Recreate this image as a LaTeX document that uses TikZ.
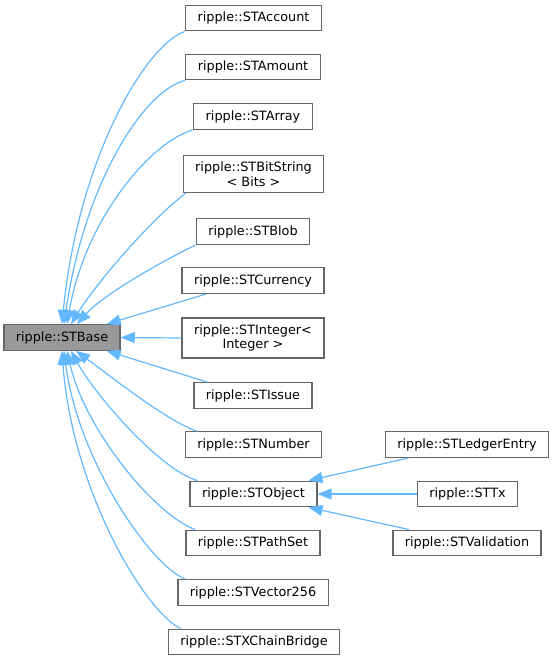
\documentclass[tikz,border=0pt]{standalone}
\usepackage{fontspec}
\setmainfont{DejaVu Sans}
\usetikzlibrary{arrows.meta}
\definecolor{edgeblue}{HTML}{63B8FF}

\begin{document}
\begin{tikzpicture}[x=1pt,y=-1pt,
    cls/.style={draw=black!60,line width=1.3pt,fill=white,inner xsep=12pt,inner ysep=6.5pt,
        minimum height=25.5pt,align=center,font=\fontsize{12.8}{14.5}\selectfont},
    basecls/.style={cls,fill=black!40},
    inh/.style={draw=edgeblue,line width=1.2pt,-{Triangle[length=14pt,width=11pt]}}]
    \useasboundingbox (0,0) rectangle (553,660);
    % classes
    \node[basecls] (base) at (62,337.5) {ripple::STBase};
    \node[cls] (account) at (253.5,18) {ripple::STAccount};
    \node[cls] (amount) at (253,67) {ripple::STAmount};
    \node[cls] (starray) at (253,116.5) {ripple::STArray};
    \node[cls] (bitstring) at (253.5,174) {ripple::STBitString\\< Bits >};
    \node[cls] (blob) at (253,231.5) {ripple::STBlob};
    \node[cls] (currency) at (253,280.5) {ripple::STCurrency};
    \node[cls] (integer) at (253,338) {ripple::STInteger<\\Integer >};
    \node[cls] (issue) at (253,395.5) {ripple::STIssue};
    \node[cls] (number) at (253.5,444.5) {ripple::STNumber};
    \node[cls] (object) at (253.5,494) {ripple::STObject};
    \node[cls] (pathset) at (253,543) {ripple::STPathSet};
    \node[cls] (vector) at (253,592.5) {ripple::STVector256};
    \node[cls] (xchain) at (254,642) {ripple::STXChainBridge};
    \node[cls] (ledger) at (467,444.5) {ripple::STLedgerEntry};
    \node[cls] (sttx) at (467.5,494) {ripple::STTx};
    \node[cls] (validation) at (467,543) {ripple::STValidation};
    % inheritance
    \draw[inh] (account.south west) .. controls (145,45) and (78,160) .. (base.north);
    \draw[inh] (amount.south west) .. controls (145,90) and (85,180) .. ([xshift=2]base.north);
    \draw[inh] (starray.south west) .. controls (150,142) and (85,220) .. ([xshift=5]base.north);
    \draw[inh] ([xshift=3]bitstring.south west) .. controls (150,220) and (95,285) .. ([xshift=9]base.north);
    \draw[inh] (blob.south west) .. controls (157,264) and (103,295) .. ([xshift=15]base.north);
    \draw[inh] ([xshift=25]currency.south west) -- ([xshift=-14]base.north east);
    \draw[inh] (integer.west) -- (base.east);
    \draw[inh] ([xshift=14]issue.north west) -- ([xshift=-14]base.south east);
    \draw[inh] ([xshift=12]number.north west) .. controls (165,420) and (105,372) .. ([xshift=14]base.south);
    \draw[inh] ([xshift=8]object.north west) .. controls (160,470) and (95,395) .. ([xshift=9]base.south);
    \draw[inh] ([xshift=10]pathset.north west) .. controls (155,515) and (85,430) .. ([xshift=5]base.south);
    \draw[inh] ([xshift=8]vector.north west) .. controls (150,565) and (78,460) .. ([xshift=2]base.south);
    \draw[inh] ([xshift=13]xchain.north west) .. controls (145,612) and (72,490) .. (base.south);
    \draw[inh] ([xshift=24]ledger.south west) -- ([xshift=-9]object.north east);
    \draw[inh] (sttx.west) -- (object.east);
    \draw[inh] ([xshift=17]validation.north west) -- ([xshift=-9]object.south east);
\end{tikzpicture}
\end{document}
